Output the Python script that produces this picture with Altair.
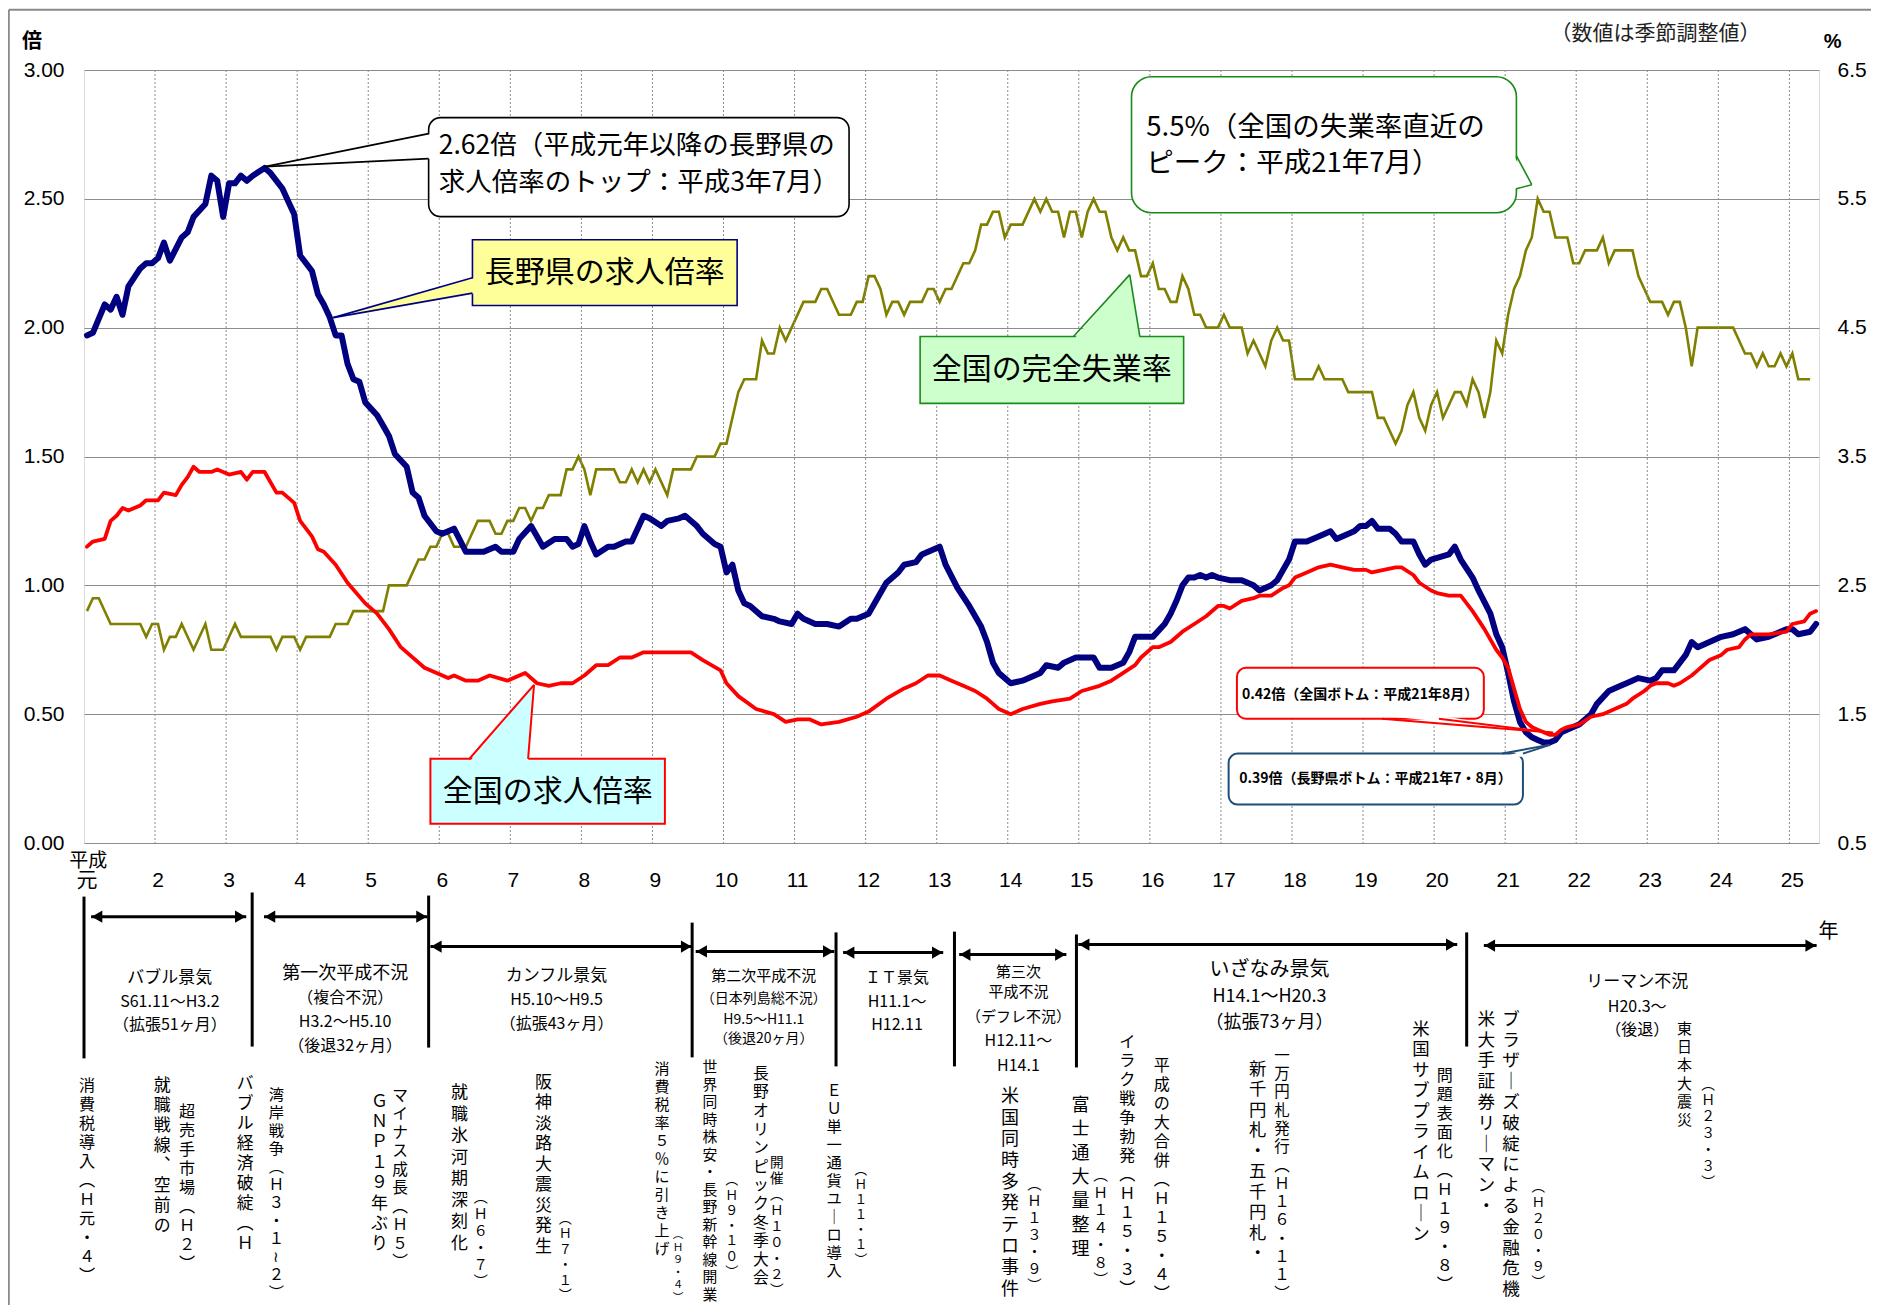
import altair as alt
import pandas as pd

# ---------------- data (month index n: 0 = 平成元年1月) ----------------
NAGANO = [(0,1.97),(1,1.98),(3,2.09),(4,2.07),(5,2.12),(6,2.05),(7,2.16),(9,2.23),(10,2.25),(11,2.25),
 (12,2.27),(13,2.33),(14,2.26),(16,2.35),(17,2.37),(18,2.43),(20,2.48),(21,2.59),(22,2.57),(23,2.43),
 (24,2.56),(25,2.56),(26,2.59),(27,2.57),(28,2.59),(30,2.62),(31,2.60),(33,2.54),(34,2.49),(35,2.44),
 (36,2.28),(38,2.22),(39,2.13),(40,2.09),(41,2.04),(42,1.97),(43,1.97),(44,1.86),(45,1.80),(46,1.79),
 (47,1.71),(49,1.66),(50,1.62),(51,1.58),(52,1.51),(54,1.46),(55,1.36),(56,1.34),(57,1.27),(59,1.21),
 (60,1.20),(62,1.22),(64,1.13),(67,1.13),(69,1.15),(70,1.13),(72,1.13),(73,1.18),(75,1.23),(77,1.15),
 (79,1.18),(81,1.18),(82,1.15),(83,1.16),(84,1.23),(85,1.17),(86,1.12),(88,1.15),(89,1.15),(91,1.17),
 (92,1.17),(94,1.27),(95,1.26),(97,1.23),(98,1.25),(100,1.26),(101,1.27),(103,1.23),(104,1.20),(106,1.16),
 (107,1.15),(108,1.05),(109,1.08),(110,0.98),(111,0.93),(112,0.92),(114,0.88),(116,0.87),(117,0.86),(119,0.85),
 (120,0.89),(121,0.87),(123,0.85),(125,0.85),(127,0.84),(129,0.87),(130,0.87),(132,0.89),(134,0.97),(135,1.01),
 (137,1.05),(138,1.08),(140,1.09),(141,1.12),(144,1.15),(145,1.08),(147,0.99),(149,0.92),(150,0.88),(151,0.84),
 (152,0.78),(153,0.70),(154,0.66),(156,0.62),(158,0.63),(161,0.66),(162,0.69),(164,0.68),(165,0.70),(167,0.72),
 (170,0.72),(171,0.68),(173,0.68),(175,0.70),(176,0.74),(177,0.80),(178,0.80),(180,0.80),(182,0.85),(183,0.89),
 (184,0.94),(185,1.00),(186,1.03),(187,1.03),(188,1.04),(189,1.03),(190,1.04),(191,1.03),(193,1.02),(195,1.02),
 (197,1.00),(198,0.98),(200,1.00),(201,1.02),(203,1.10),(204,1.17),(206,1.17),(208,1.19),(210,1.21),(211,1.18),
 (214,1.21),(215,1.23),(216,1.23),(217,1.25),(218,1.22),(220,1.22),(221,1.20),(222,1.17),(224,1.17),(225,1.12),
 (226,1.08),(227,1.10),(230,1.12),(231,1.15),(232,1.10),(234,1.03),(235,0.98),(237,0.89),(238,0.81),(239,0.76),
 (240,0.66),(241,0.55),(242,0.47),(243,0.43),(244,0.41),(245,0.40),(246,0.39),(247,0.39),(248,0.40),(249,0.43),
 (251,0.45),(252,0.46),(254,0.50),(255,0.54),(257,0.59),(259,0.61),(260,0.62),(262,0.64),(264,0.63),(265,0.64),
 (266,0.67),(268,0.67),(270,0.73),(271,0.78),(272,0.76),(274,0.78),(276,0.80),(278,0.81),(280,0.83),(282,0.79),
 (284,0.80),(287,0.83),(288,0.83),(289,0.81),(291,0.82),(292,0.85)]

NATIONAL = [(0,1.15),(1,1.17),(3,1.18),(4,1.25),(5,1.27),(6,1.30),(7,1.29),(9,1.31),(10,1.33),(12,1.33),
 (13,1.36),(15,1.35),(16,1.39),(17,1.42),(18,1.46),(19,1.44),(21,1.44),(22,1.45),(24,1.43),(26,1.44),
 (27,1.41),(28,1.44),(30,1.44),(32,1.36),(33,1.36),(35,1.32),(36,1.25),(38,1.19),(39,1.14),(40,1.13),
 (42,1.08),(44,1.01),(47,0.93),(49,0.89),(50,0.86),(51,0.83),(53,0.76),(57,0.68),(61,0.64),(62,0.65),
 (64,0.63),(66,0.63),(68,0.65),(71,0.63),(74,0.66),(76,0.62),(78,0.61),(80,0.62),(82,0.62),(84,0.65),
 (86,0.69),(88,0.69),(90,0.72),(92,0.72),(94,0.74),(102,0.74),(104,0.71),(107,0.67),(108,0.62),(110,0.57),
 (113,0.52),(116,0.50),(118,0.47),(120,0.48),(122,0.48),(124,0.46),(127,0.47),(130,0.49),(132,0.51),(135,0.56),
 (138,0.60),(140,0.62),(142,0.65),(144,0.65),(146,0.63),(148,0.61),(150,0.59),(152,0.56),(153,0.54),(154,0.52),
 (156,0.50),(158,0.52),(161,0.54),(163,0.55),(166,0.56),(168,0.59),(171,0.61),(173,0.63),(175,0.66),(177,0.69),
 (178,0.72),(180,0.76),(181,0.76),(183,0.78),(185,0.82),(187,0.85),(189,0.88),(191,0.92),(192,0.92),(193,0.91),
 (195,0.94),(197,0.95),(198,0.96),(200,0.96),(202,0.99),(203,1.00),(204,1.03),(206,1.05),(208,1.07),(210,1.08),
 (212,1.07),(214,1.06),(216,1.06),(217,1.05),(219,1.06),(221,1.07),(222,1.07),(224,1.04),(225,1.01),(227,0.98),
 (228,0.97),(230,0.96),(232,0.96),(234,0.90),(236,0.83),(238,0.75),(239,0.72),(240,0.68),(241,0.60),(242,0.52),
 (243,0.47),(244,0.45),(245,0.44),(246,0.43),(247,0.42),(248,0.42),(249,0.44),(250,0.45),(252,0.46),(254,0.49),
 (256,0.50),(258,0.52),(260,0.54),(261,0.56),(263,0.59),(264,0.61),(265,0.62),(267,0.62),(268,0.61),(269,0.62),
 (271,0.65),(272,0.67),(274,0.71),(276,0.73),(277,0.75),(279,0.76),(280,0.79),(281,0.81),(284,0.81),(287,0.82),
 (288,0.85),(290,0.86),(291,0.89),(292,0.90)]

UNEMP = [(0,2.3),(1,2.4),(2,2.4),(4,2.2),(9,2.2),(10,2.1),(11,2.2),(12,2.2),(13,2.0),(14,2.1),(15,2.1),(16,2.2),
 (18,2.0),(20,2.2),(21,2.0),(23,2.0),(25,2.2),(26,2.1),(31,2.1),(32,2.0),(33,2.1),(35,2.1),(36,2.0),(37,2.1),
 (41,2.1),(42,2.2),(44,2.2),(45,2.3),(50,2.3),(51,2.5),(54,2.5),(56,2.7),(57,2.7),(58,2.8),(59,2.8),(60,2.9),
 (61,2.9),(62,2.8),(64,2.8),(66,3.0),(68,3.0),(69,2.9),(70,2.9),(71,3.0),(72,3.0),(73,3.1),(74,3.1),(75,3.0),
 (76,3.1),(77,3.1),(78,3.2),(80,3.2),(81,3.4),(82,3.4),(83,3.5),(84,3.4),(85,3.2),(86,3.4),(89,3.4),(90,3.3),
 (91,3.3),(92,3.4),(93,3.3),(94,3.4),(95,3.3),(96,3.4),(98,3.2),(99,3.4),(102,3.4),(103,3.5),(106,3.5),(107,3.6),
 (108,3.6),(110,4.0),(111,4.1),(113,4.1),(114,4.4),(115,4.3),(116,4.3),(117,4.5),(118,4.4),(121,4.7),(123,4.7),
 (124,4.8),(125,4.8),(127,4.6),(129,4.6),(130,4.7),(131,4.7),(132,4.9),(133,4.9),(134,4.8),(135,4.6),(136,4.7),
 (137,4.7),(138,4.6),(139,4.7),(141,4.7),(142,4.8),(143,4.8),(144,4.7),(145,4.8),(146,4.8),(148,5.0),(149,5.0),
 (150,5.1),(151,5.3),(152,5.3),(153,5.4),(154,5.4),(155,5.2),(156,5.3),(158,5.3),(160,5.5),(161,5.4),(162,5.5),
 (163,5.4),(164,5.4),(165,5.2),(166,5.4),(167,5.4),(168,5.2),(169,5.4),(170,5.5),(171,5.4),(172,5.4),(173,5.2),
 (174,5.1),(175,5.2),(176,5.1),(177,5.1),(178,4.9),(179,4.9),(180,5.0),(181,4.8),(182,4.8),(183,4.7),(184,4.7),
 (185,4.9),(186,4.8),(187,4.6),(188,4.6),(189,4.5),(191,4.5),(192,4.6),(193,4.5),(195,4.5),(196,4.3),(197,4.4),
 (199,4.2),(200,4.4),(201,4.5),(202,4.4),(203,4.4),(204,4.1),(207,4.1),(208,4.2),(209,4.1),(212,4.1),(213,4.0),
 (217,4.0),(218,3.8),(219,3.8),(220,3.7),(221,3.6),(222,3.7),(223,3.9),(224,4.0),(225,3.8),(226,3.7),(227,3.9),
 (228,4.0),(229,3.8),(230,3.9),(231,4.0),(232,4.0),(233,3.9),(234,4.1),(235,4.0),(236,3.8),(237,4.0),(238,4.4),
 (239,4.3),(240,4.6),(241,4.8),(242,4.9),(243,5.1),(244,5.2),(245,5.5),(246,5.4),(247,5.4),(248,5.2),(250,5.2),
 (251,5.0),(252,5.0),(253,5.1),(255,5.1),(256,5.2),(257,5.0),(258,5.1),(261,5.1),(262,4.9),(263,4.8),(264,4.7),
 (266,4.7),(267,4.6),(268,4.7),(269,4.7),(270,4.5),(271,4.2),(272,4.5),(278,4.5),(279,4.4),(280,4.3),(281,4.3),
 (282,4.2),(283,4.3),(284,4.2),(285,4.2),(286,4.3),(287,4.2),(288,4.3),(289,4.1),(291,4.1)]

YEAR_LABELS = ["元"] + [str(i) for i in range(2, 26)]
LEFT_TICKS = [0.0, 0.5, 1.0, 1.5, 2.0, 2.5, 3.0]
RIGHT_TICKS = [0.5, 1.5, 2.5, 3.5, 4.5, 5.5, 6.5]
N_MONTHS = 293

# business-cycle periods
PERIOD_BOUNDS = [0.0, 28.4, 58.2, 102.7, 127.0, 147.0, 167.6, 233.5]
PERIOD_BOUND_TOP = [-0.208, -0.192, -0.204, -0.309, -0.347, -0.344, -0.355, -0.347]
PERIOD_BOUND_BOT = [-0.836, -0.790, -0.794, -0.832, -0.867, -0.867, -0.871, -0.790]
ARROW_FROM = [1.2, 30.4, 58.5, 103.3, 128.2, 147.8, 167.9, 236.4]
ARROW_TO = [27.4, 58.0, 102.7, 126.7, 145.1, 165.9, 231.9, 292.6]
ARROW_LEVEL = [-0.286, -0.286, -0.402, -0.421, -0.425, -0.433, -0.394, -0.398]

CYCLE_TEXT = [
 ("バブル景気", 14.5, -0.522, 17), ("S61.11～H3.2", 14.5, -0.619, 16), ("（拡張51ヶ月）", 14.5, -0.708, 16),
 ("第一次平成不況", 44.1, -0.507, 18), ("（複合不況）", 44.1, -0.600, 16), ("H3.2～H5.10", 44.1, -0.693, 16), ("（後退32ヶ月）", 44.1, -0.786, 16),
 ("カンフル景気", 79.8, -0.518, 17), ("H5.10～H9.5", 79.8, -0.611, 16), ("（拡張43ヶ月）", 79.8, -0.704, 16),
 ("第二次平成不況", 114.8, -0.518, 15), ("（日本列島総不況）", 114.8, -0.604, 14), ("H9.5～H11.1", 114.8, -0.685, 14), ("（後退20ヶ月）", 114.8, -0.759, 14),
 ("ＩＴ景気", 137.3, -0.522, 16), ("H11.1～", 137.3, -0.619, 16), ("H12.11", 137.3, -0.708, 16),
 ("第三次", 157.8, -0.499, 15), ("平成不況", 157.8, -0.580, 15), ("（デフレ不況）", 157.8, -0.677, 15), ("H12.11～", 157.8, -0.770, 16), ("H14.1", 157.8, -0.867, 16),
 ("いざなみ景気", 200.2, -0.491, 20), ("H14.1～H20.3", 200.2, -0.596, 18), ("（拡張73ヶ月）", 200.2, -0.697, 18),
 ("リーマン不況", 262.3, -0.541, 17), ("H20.3～", 262.3, -0.638, 16), ("（後退）", 262.3, -0.724, 16),
]

# events written vertically: text, month position, top level, line pitch (px), font size
EVENTS = [
 ("消費税導入︵Ｈ元・４︶", 0.5, -0.906, 19, 17),
 ("就職戦線︑空前の", 13.2, -0.906, 20, 17),
 ("超売手市場︵Ｈ２︶", 17.4, -1.007, 19, 17),
 ("バブル経済破綻︵Ｈ", 27.2, -0.898, 20, 17),
 ("湾岸戦争︵Ｈ３・１≀２︶", 32.5, -0.945, 18.0, 17),
 ("ＧＮＰ１９年ぶり", 49.9, -0.964, 20.4, 17),
 ("マイナス成長︵Ｈ５︶", 53.4, -0.945, 18.5, 17),
 ("就職氷河期深刻化", 63.4, -0.929, 21.5, 17),
 ("︵Ｈ６・７︶", 67.0, -1.346, 17, 17),
 ("阪神淡路大震災発生", 77.6, -0.891, 20.5, 17),
 ("︵Ｈ７・１︶", 81.3, -1.429, 15.5, 17),
 ("消費税率５％に引き上げ", 97.6, -0.841, 18, 15),
 ("︵Ｈ９・４︶", 100.3, -1.499, 12.5, 15),
 ("世界同時株安・長野新幹線開業", 105.7, -0.841, 17.5, 16),
 ("︵Ｈ９・１０︶", 109.4, -1.279, 15.3, 15),
 ("長野オリンピック冬季大会", 114.3, -0.860, 18.6, 16),
 ("開催︵Ｈ１０・２︶", 117.0, -1.209, 16, 15),
 ("ＥＵ単一通貨ユ｜ロ導入", 126.7, -0.929, 18, 16),
 ("︵Ｈ１１・１︶", 131.2, -1.240, 15, 15),
 ("米国同時多発テロ事件", 156.4, -0.945, 21.4, 18),
 ("︵Ｈ１３・９︶", 160.5, -1.294, 17.0, 17),
 ("富士通大量整理", 168.3, -0.976, 24, 18),
 ("︵Ｈ１４・８︶", 171.7, -1.259, 17.5, 17),
 ("イラク戦争勃発︵Ｈ１５・３︶", 176.2, -0.735, 19.0, 18),
 ("平成の大合併︵Ｈ１５・４︶", 182.0, -0.828, 19, 18),
 ("新千円札・五千円札・", 198.2, -0.841, 20.5, 18),
 ("一万円札発行︵Ｈ１６・１１︶", 202.3, -0.790, 18.3, 18),
 ("米国サブプライムロ｜ン", 225.8, -0.685, 20.5, 18),
 ("問題表面化︵Ｈ１９・８︶", 229.8, -0.867, 19.0, 18),
 ("米大手証券リ｜マン・", 236.8, -0.646, 20.8, 18),
 ("ブラザ｜ズ破綻による金融危機", 241.0, -0.646, 20.8, 18),
 ("︵Ｈ２０・９︶", 245.6, -1.305, 16.0, 17),
 ("東日本大震災", 270.3, -0.685, 18.3, 15),
 ("︵Ｈ２３・３︶", 274.3, -0.906, 16.4, 17),
]

# ---------------- scales / encodings ----------------
JP = "Noto Sans CJK JP"
NUM = "Liberation Sans, Noto Sans CJK JP"
PLOT_W, PLOT_H = 1735, 773
PX_PER_UNIT = PLOT_H / 3.0
xs = alt.Scale(domain=[0, N_MONTHS], nice=False, zero=False)
ys = alt.Scale(domain=[0, 3], nice=False, zero=False)
us = alt.Scale(domain=[0.5, 6.5], nice=False, zero=False)
LEFT_AXIS = alt.Axis(orient="left", values=LEFT_TICKS, format=".2f", grid=True, gridColor="#8c8c8c",
                     gridWidth=1, ticks=False, domain=False, labelFont=NUM, labelFontSize=21,
                     labelColor="#000", labelPadding=20, title=None)
RIGHT_AXIS = alt.Axis(orient="right", values=RIGHT_TICKS, format=".1f", grid=False, ticks=False,
                      domain=False, labelFont=NUM, labelFontSize=21, labelColor="#000",
                      labelPadding=18, title=None)


def X():
    return alt.X("t:Q", scale=xs, axis=None)


def Y():
    return alt.Y("v:Q", scale=ys, axis=LEFT_AXIS)


X2 = alt.X2("t2:Q")
Y2 = alt.Y2("v2:Q")


def series_df(pairs, col):
    return pd.DataFrame({"t": [n + 0.5 for n, _ in pairs], col: [v for _, v in pairs]})


layers = []

# vertical year grid
layers.append(alt.Chart(pd.DataFrame({"t": [12 * k for k in range(1, 25)]}))
              .mark_rule(color="#8c8c8c", strokeWidth=1, strokeDash=[2, 2]).encode(x=X()))

nagano = alt.Chart(series_df(NAGANO, "v")).mark_line(color="#000080", strokeWidth=6,
        strokeJoin="round", strokeCap="round").encode(x=X(), y=Y())
national = alt.Chart(series_df(NATIONAL, "v")).mark_line(color="#ff0000", strokeWidth=3.8,
        strokeJoin="round", strokeCap="round").encode(x=X(), y=Y())
layers += [nagano, national]


# ---------- callouts ----------
def box(t1, t2, v1, v2, fill, stroke, sw, radius):
    return alt.Chart(pd.DataFrame({"t": [t1], "t2": [t2], "v": [v1], "v2": [v2]})).mark_rect(
        fill=fill, stroke=stroke, strokeWidth=sw, cornerRadius=radius).encode(x=X(), x2=X2, y=Y(), y2=Y2)


def wedge(apex, b1, b2, fill, stroke, sw, orient, inset):
    out = []
    if orient == "v":
        d = pd.DataFrame({"t": [apex[0], b1[0] + inset], "v": [apex[1], b1[1]], "v2": [apex[1], b2[1]]})
        out.append(alt.Chart(d).mark_area(fill=fill, opacity=1, strokeWidth=0).encode(x=X(), y=Y(), y2=Y2))
    else:
        d = pd.DataFrame({"v": [apex[1], b1[1] + inset], "t": [apex[0], b1[0]], "t2": [apex[0], b2[0]]})
        out.append(alt.Chart(d).mark_area(orient="horizontal", fill=fill, opacity=1, strokeWidth=0)
                   .encode(y=Y(), x=X(), x2=X2))
    e = pd.DataFrame({"t": [apex[0], apex[0]], "v": [apex[1], apex[1]],
                      "t2": [b1[0], b2[0]], "v2": [b1[1], b2[1]]})
    out.append(alt.Chart(e).mark_rule(color=stroke, strokeWidth=sw).encode(x=X(), y=Y(), x2=X2, y2=Y2))
    return out


def text(rows, **kw):
    d = pd.DataFrame(rows, columns=["text", "t", "v"])
    return alt.Chart(d).mark_text(**kw).encode(x=X(), y=Y(), text="text:N")


# 2.62 peak callout
layers.append(box(58.2, 129.2, 2.815, 2.431, "white", "#000", 1.6, 12))
layers += wedge((30.6, 2.625), (58.2, 2.753), (58.2, 2.656), "white", "#000", 1.6, "v", 0.5)
layers.append(text([("2.62倍（平成元年以降の長野県の", 59.9, 2.706),
                    ("求人倍率のトップ：平成3年7月）", 59.9, 2.563)],
                   align="left", baseline="middle", font=JP, fontSize=26.5, color="#000"))

# 長野県の求人倍率 label
layers.append(box(65.6, 110.3, 2.341, 2.086, "#ffff99", "#000080", 1.6, 0))
layers += wedge((42.1, 2.039), (65.6, 2.194), (65.6, 2.134), "#ffff99", "#000080", 1.6, "v", 0.5)
layers.append(text([("長野県の求人倍率", 87.95, 2.214)], align="center", baseline="middle",
                   font=JP, fontSize=30, color="#000"))

# 5.5% unemployment peak callout
layers.append(box(176.9, 241.9, 2.974, 2.446, "white", "#1a8a1a", 1.6, 20))
layers += wedge((244.5, 2.555), (241.9, 2.667), (241.9, 2.539), "white", "#1a8a1a", 1.6, "v", -0.5)
layers.append(text([("5.5%（全国の失業率直近の", 179.4, 2.776),
                    ("ピーク：平成21年7月）", 179.4, 2.637)],
                   align="left", baseline="middle", font=JP, fontSize=27.5, color="#000"))

# 全国の完全失業率 label
layers.append(box(141.2, 185.7, 1.966, 1.706, "#ccffcc", "#1a8a1a", 1.6, 0))
layers += wedge((176.6, 2.206), (167.1, 1.966), (178.3, 1.966), "#ccffcc", "#1a8a1a", 1.6, "h", -0.012)
layers.append(text([("全国の完全失業率", 163.45, 1.834)], align="center", baseline="middle",
                   font=JP, fontSize=30, color="#000"))

# 全国の求人倍率 label
layers.append(box(58.5, 98.1, 0.327, 0.075, "#ccffff", "#ff0000", 2, 0))
layers += wedge((76.0, 0.614), (65.1, 0.327), (75.0, 0.327), "#ccffff", "#ff0000", 2, "h", -0.012)
layers.append(text([("全国の求人倍率", 78.3, 0.199)], align="center", baseline="middle",
                   font=JP, fontSize=30, color="#000"))

# 0.42 national bottom
layers.append(box(194.7, 236.4, 0.680, 0.482, "white", "#ff0000", 2, 9))
layers += wedge((248.1, 0.428), (219.2, 0.482), (228.8, 0.482), "white", "#ff0000", 2, "h", 0.012)
layers.append(text([("0.42倍（全国ボトム：平成21年8月）", 215.5, 0.575)], align="center",
                   baseline="middle", font=JP, fontSize=14, fontWeight="bold", color="#000"))

# 0.39 Nagano bottom
layers.append(box(193.3, 243.0, 0.347, 0.149, "white", "#1f4e79", 2, 9))
layers += wedge((247.6, 0.381), (239.5, 0.347), (243.0, 0.347), "white", "#1f4e79", 2, "h", -0.012)
layers.append(text([("0.39倍（長野県ボトム：平成21年7・8月）", 218.1, 0.249)], align="center",
                   baseline="middle", font=JP, fontSize=14, fontWeight="bold", color="#000"))

# ---------- header texts ----------
layers.append(text([("倍", -8.8, 3.11)], align="center", baseline="middle", font=JP, fontSize=20,
                   fontWeight="bold", color="#000"))
layers.append(text([("%", 295.3, 3.11)], align="center", baseline="middle", font=NUM, fontSize=20,
                   fontWeight="bold", color="#000"))
layers.append(text([("（数値は季節調整値）", 265.4, 3.14)], align="center", baseline="middle",
                   font=JP, fontSize=21, color="#222"))

# ---------- x labels ----------
layers.append(text([(lab, 12 * k + 0.5, -0.146) for k, lab in enumerate(YEAR_LABELS)],
                   align="center", baseline="middle", font=NUM, fontSize=21, color="#000"))
layers.append(text([("平成", 0.7, -0.068)], align="center", baseline="middle", font=JP,
                   fontSize=19, color="#000"))
layers.append(text([("年", 294.6, -0.347)], align="center", baseline="middle", font=JP,
                   fontSize=20, color="#000"))

# ---------- business cycle panel ----------
bd = pd.DataFrame({"t": PERIOD_BOUNDS, "v": PERIOD_BOUND_TOP, "v2": PERIOD_BOUND_BOT})
layers.append(alt.Chart(bd).mark_rule(color="#000", strokeWidth=3).encode(x=X(), y=Y(), y2=Y2))
ad = pd.DataFrame({"t": ARROW_FROM, "t2": ARROW_TO, "v": ARROW_LEVEL})
layers.append(alt.Chart(ad).mark_rule(color="#000", strokeWidth=3).encode(x=X(), x2=X2, y=Y()))
hl = pd.DataFrame({"t": [a + 1.0 for a in ARROW_FROM], "v": ARROW_LEVEL})
hr = pd.DataFrame({"t": [b - 1.0 for b in ARROW_TO], "v": ARROW_LEVEL})
layers.append(alt.Chart(hl).mark_point(shape="triangle-left", filled=True, size=150, color="#000",
                                       opacity=1).encode(x=X(), y=Y()))
layers.append(alt.Chart(hr).mark_point(shape="triangle-right", filled=True, size=150, color="#000",
                                       opacity=1).encode(x=X(), y=Y()))

cd = pd.DataFrame(CYCLE_TEXT, columns=["text", "t", "v", "size"])
layers.append(alt.Chart(cd).mark_text(align="center", baseline="middle", font=JP, color="#000")
              .encode(x=X(), y=Y(), text="text:N", size=alt.Size("size:Q", scale=None, legend=None)))

# vertical (tategaki) event notes: one glyph per row, stacked downwards
ev_rows = []
for txt, t, v, lh, fs in EVENTS:
    size = min(fs, round(lh / 1.18, 1))
    for i, ch in enumerate(txt):
        ev_rows.append({"text": ch, "t": t, "v": v - (i * lh + lh / 2) / PX_PER_UNIT, "size": size})
layers.append(alt.Chart(pd.DataFrame(ev_rows)).mark_text(align="center", baseline="middle", font=JP,
                                                          color="#000")
              .encode(x=X(), y=Y(), text="text:N", size=alt.Size("size:Q", scale=None, legend=None)))

# outer frame (top & left)
layers.append(alt.Chart(pd.DataFrame({"t": [-12.7], "t2": [304.0], "v": [3.234]}))
              .mark_rule(color="#8a8a8a", strokeWidth=2).encode(x=X(), x2=X2, y=Y()))
layers.append(alt.Chart(pd.DataFrame({"t": [-12.7], "v": [3.234], "v2": [-1.84]}))
              .mark_rule(color="#8a8a8a", strokeWidth=2).encode(x=X(), y=Y(), y2=Y2))

left_group = alt.layer(*layers)

unemp = alt.Chart(series_df(UNEMP, "u")).mark_line(color="#808000", strokeWidth=2.6,
        strokeJoin="miter").encode(x=X(), y=alt.Y("u:Q", scale=us, axis=RIGHT_AXIS))

chart = alt.layer(unemp, left_group).resolve_scale(y="independent").properties(
    width=PLOT_W, height=PLOT_H,
    padding={"left": 76, "top": 62, "right": 52, "bottom": 462},
    autosize=alt.AutoSizeParams(type="none"),
).configure_view(stroke="#000", strokeWidth=1.5).configure(background="white")

chart.save("out.html", embed_options={"renderer": "svg", "actions": False})
